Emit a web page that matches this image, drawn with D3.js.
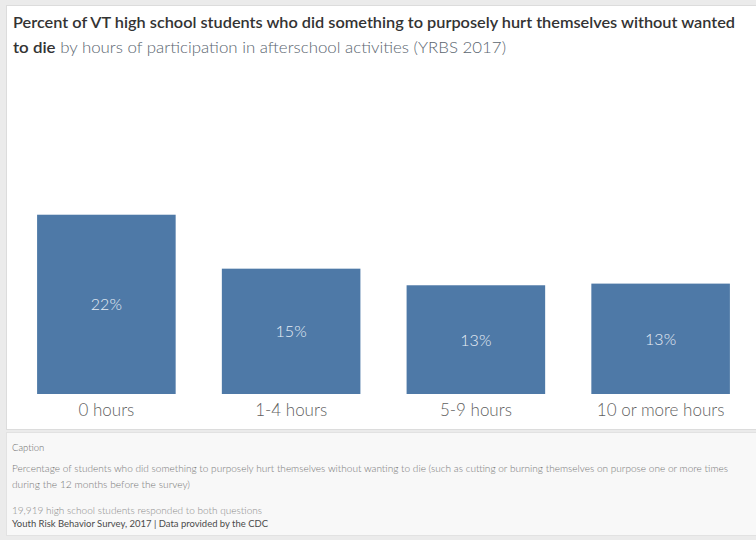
<!DOCTYPE html>
<html>
<head>
<meta charset="utf-8">
<script src="https://cdn.jsdelivr.net/npm/d3@7"></script>
<style>
  html, body { margin: 0; padding: 0; background: #ebebeb; }
  svg { display: block; }
</style>
</head>
<body>
<svg id="chart" width="756" height="540"></svg>
<script>
// Afterschool participation categories and share of students reporting self-harm (%)
const categories = ["0 hours", "1-4 hours", "5-9 hours", "10 or more hours"];
const percentValues = [21.6, 15.1, 13.1, 13.3];

const titleLine1 = "Percent of VT high school students who did something to purposely hurt themselves without wanted";
const titleBold2 = "to die";
const titleRest2 = " by hours of participation in afterschool activities (YRBS 2017)";
const captionHead = "Caption";
const captionLines = [
  "Percentage of students who did something to purposely hurt themselves without wanting to die (such as cutting or burning themselves on purpose one or more times",
  "during the 12 months before the survey)"
];
const respondents = "19,919 high school students responded to both questions";
const sourceLine = "Youth Risk Behavior Survey, 2017  | Data provided by the CDC";

const svg = d3.select("#chart");
const W = 756, H = 540;

// Panels
svg.append("rect").attr("x", 0).attr("y", 0).attr("width", W).attr("height", H).attr("fill", "#ebebeb");
svg.append("rect").attr("x", 6.5).attr("y", 5.5).attr("width", W).attr("height", 424)
  .attr("fill", "#ffffff").attr("stroke", "#dcdcdc");
svg.append("rect").attr("x", 6.5).attr("y", 432.5).attr("width", W).attr("height", 103)
  .attr("fill", "#f8f8f8").attr("stroke", "#e2e2e2");

// Title
const font = "Lato, 'Open Sans', 'DejaVu Sans', sans-serif";
svg.append("text").attr("x", 13).attr("y", 28)
  .attr("font-family", font).attr("font-size", 15.5).attr("font-weight", 600)
  .attr("fill", "#333333")
  .attr("textLength", 722).attr("lengthAdjust", "spacingAndGlyphs")
  .text(titleLine1);
const t2 = svg.append("text").attr("x", 13).attr("y", 53)
  .attr("font-family", font).attr("font-size", 15.5).attr("textLength", 493)
  .attr("lengthAdjust", "spacingAndGlyphs");
t2.append("tspan").attr("font-weight", 600).attr("fill", "#333333").text(titleBold2);
t2.append("tspan").attr("font-weight", 300).attr("fill", "#5b6670").text(titleRest2);

// Scales
const x = d3.scaleBand().domain(categories).range([14, 753]).paddingInner(0.25).paddingOuter(0.125);
const y = d3.scaleLinear().domain([0, 22]).range([394, 394 - 22 * 8.3]);

const g = svg.append("g");
g.selectAll("rect.bar").data(categories).join("rect")
  .attr("class", "bar")
  .attr("x", d => x(d))
  .attr("width", x.bandwidth())
  .attr("y", (d, i) => y(percentValues[i]))
  .attr("height", (d, i) => y(0) - y(percentValues[i]))
  .attr("fill", "#4e79a7");

const fmt = v => d3.format(".0f")(v) + "%";
g.selectAll("text.val").data(categories).join("text")
  .attr("class", "val")
  .attr("x", d => x(d) + x.bandwidth() / 2)
  .attr("y", (d, i) => (y(percentValues[i]) + y(0)) / 2 + 6)
  .attr("text-anchor", "middle")
  .attr("font-family", font).attr("font-size", 16).attr("font-weight", 300)
  .attr("fill", "#e6edf5")
  .text((d, i) => fmt(percentValues[i]));

// Category axis (labels only)
const axis = svg.append("g").attr("transform", "translate(0,394)")
  .call(d3.axisBottom(x).tickSize(0).tickPadding(10));
axis.select(".domain").remove();
axis.selectAll("text")
  .attr("dy", "0.71em")
  .attr("font-family", font).attr("font-size", 17).attr("font-weight", 300)
  .attr("fill", "#5f5f5f");

// Caption block
const cap = svg.append("g").attr("font-family", font).attr("font-weight", 300);
cap.append("text").attr("x", 12).attr("y", 451).attr("font-size", 9.5).attr("fill", "#6a6a6a").text(captionHead);
const capLens = [716, 178];
captionLines.forEach((line, i) => {
  cap.append("text").attr("x", 12).attr("y", 472 + i * 16).attr("font-size", 9)
    .attr("fill", "#777")
    .attr("textLength", capLens[i]).attr("lengthAdjust", "spacingAndGlyphs")
    .text(line);
});
cap.append("text").attr("x", 12).attr("y", 514).attr("font-size", 9).attr("fill", "#8a8a8a")
  .attr("textLength", 250).attr("lengthAdjust", "spacingAndGlyphs").text(respondents);
cap.append("text").attr("x", 12).attr("y", 527).attr("font-size", 9.5).attr("font-weight", 400)
  .attr("fill", "#4a4a4a").attr("textLength", 256).attr("lengthAdjust", "spacingAndGlyphs").text(sourceLine);
</script>
</body>
</html>
